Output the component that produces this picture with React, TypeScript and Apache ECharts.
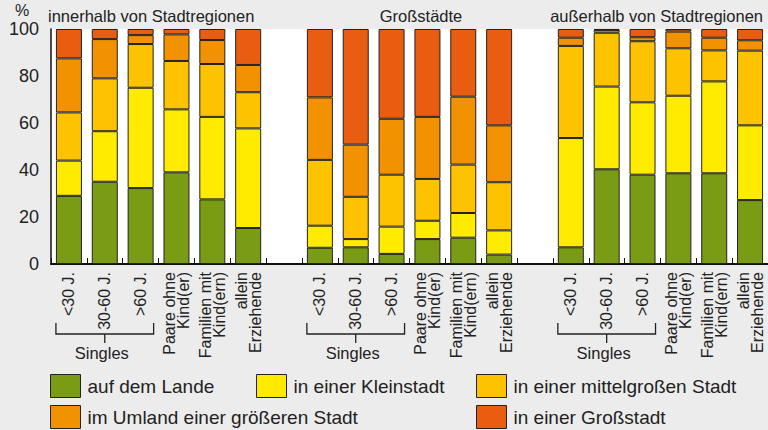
import React, { useEffect, useRef } from "react";
import * as echarts from "echarts";

const FONT = "'Liberation Sans', Arial, Helvetica, sans-serif";
const TEXT = "#222222";

const groupTitles = ["innerhalb von Stadtregionen", "Großstädte", "außerhalb von Stadtregionen"];
const householdTypes = [
  "<30 J.",
  "30-60 J.",
  ">60 J.",
  "Paare ohne\nKind(er)",
  "Familien mit\nKind(ern)",
  "allein\nErziehende",
];
const singlesLabel = "Singles";
const yTicks = [0, 20, 40, 60, 80, 100];

const seriesNames = [
  "auf dem Lande",
  "in einer Kleinstadt",
  "in einer mittelgroßen Stadt",
  "im Umland einer größeren Stadt",
  "in einer Großstadt",
];
const seriesColors = ["#7a9c14", "#ffeb00", "#fdc300", "#f29200", "#e85d10"];

// values per group: innerhalb | Großstädte | außerhalb
const aufDemLande = [29, 35, 32.3, 39, 27.5, 15.3, 6.9, 7.1, 4.3, 10.6, 11.2, 4.0, 7.1, 40.3, 38, 38.6, 38.6, 27.2];
const kleinstadt = [15, 21.5, 42.7, 26.8, 35.1, 42.4, 9.4, 3.5, 11.6, 7.8, 10.5, 10.3, 46.5, 35.2, 30.8, 33, 39.1, 31.8];
const mittelgross = [20.5, 22.5, 18.6, 20.6, 22.5, 15.4, 28, 18, 22.1, 17.8, 20.6, 20.5, 39.2, 22.9, 26, 20.2, 13.2, 31.8];
const umland = [23, 16.7, 3.8, 11.3, 10.2, 11.6, 26.6, 22.2, 23.8, 26.4, 28.9, 24.2, 3.5, 1.2, 1.7, 7.1, 5.4, 4.4];
const grossstadt = [12.5, 4.3, 2.6, 2.3, 4.7, 15.3, 29.1, 49.2, 38.2, 37.4, 28.8, 41, 3.7, 0.4, 3.5, 1.1, 3.7, 4.8];

const seriesValues = [aufDemLande, kleinstadt, mittelgross, umland, grossstadt];

function withGaps<T>(arr: T[], gap: T): T[] {
  return [...arr.slice(0, 6), gap, ...arr.slice(6, 12), gap, ...arr.slice(12, 18)];
}

const categories = withGaps([...householdTypes, ...householdTypes, ...householdTypes], "");

const legendPos = [
  { left: 50, top: 374 },
  { left: 256, top: 374 },
  { left: 476, top: 374 },
  { left: 50, top: 405 },
  { left: 476, top: 405 },
];

export default function App() {
  const ref = useRef<HTMLDivElement>(null);
  useEffect(() => {
    if (!ref.current) return;
    const chart = echarts.init(ref.current, null, { renderer: "svg" });
    const option: any = {
      animation: false,
      backgroundColor: "#ececec",
      textStyle: { fontFamily: FONT, color: TEXT },
      grid: {
        left: 51,
        right: 0,
        top: 29,
        bottom: 166,
        show: true,
        backgroundColor: "#ffffff",
        borderWidth: 0,
      },
      legend: seriesNames.map((n, i) => ({
        data: [n],
        left: legendPos[i].left,
        top: legendPos[i].top,
        padding: 0,
        icon: "rect",
        itemWidth: 30,
        itemHeight: 23,
        itemGap: 0,
        selectedMode: false,
        textStyle: { fontSize: 19, color: TEXT, fontFamily: FONT, padding: [0, 0, 0, 2] },
        itemStyle: { borderColor: "#222", borderWidth: 1 },
      })),
      xAxis: {
        type: "category",
        data: categories,
        axisLine: { show: true, lineStyle: { color: "#111", width: 2 } },
        axisTick: { show: true, inside: true, length: 6, interval: 0, lineStyle: { color: "#111", width: 1 } },
        axisLabel: {
          interval: 0,
          rotate: 90,
          fontSize: 16,
          lineHeight: 14,
          color: TEXT,
          margin: 8,
          fontFamily: FONT,
        },
        splitLine: { show: false },
      },
      yAxis: {
        type: "value",
        min: yTicks[0],
        max: yTicks[yTicks.length - 1],
        interval: 20,
        axisLine: { show: true, lineStyle: { color: "#111", width: 1.5 } },
        axisTick: { show: false },
        splitLine: { show: false },
        axisLabel: { fontSize: 18, color: TEXT, margin: 12, fontFamily: FONT },
      },
      series: seriesNames.map((name, i) => ({
        name,
        type: "bar",
        stack: "total",
        barWidth: 26,
        data: withGaps(seriesValues[i] as (number | string)[], "-"),
        itemStyle: { color: seriesColors[i], borderColor: "#222", borderWidth: 1 },
        emphasis: { disabled: true },
      })),
    };
    chart.setOption(option);

    const graphics: any[] = [
      {
        type: "text",
        x: 22,
        y: 10,
        style: { text: "%", fontSize: 16, fontFamily: FONT, fill: TEXT, align: "center", verticalAlign: "middle" },
      },
      {
        type: "text",
        x: 48,
        y: 16,
        style: { text: groupTitles[0], fontSize: 16.5, fontFamily: FONT, fill: TEXT, align: "left", verticalAlign: "middle" },
      },
      {
        type: "text",
        x: 421,
        y: 16,
        style: { text: groupTitles[1], fontSize: 16.5, fontFamily: FONT, fill: TEXT, align: "center", verticalAlign: "middle" },
      },
      {
        type: "text",
        x: 763,
        y: 16,
        style: { text: groupTitles[2], fontSize: 16.5, fontFamily: FONT, fill: TEXT, align: "right", verticalAlign: "middle" },
      },
    ];
    for (let k = 0; k < 3; k++) {
      const start = k * 7;
      const c1 = chart.convertToPixel({ xAxisIndex: 0 }, start) as number;
      const c3 = chart.convertToPixel({ xAxisIndex: 0 }, start + 2) as number;
      const x1 = c1 - 13;
      const x2 = c3 + 13;
      const mid = (x1 + x2) / 2;
      graphics.push({
        type: "polyline",
        shape: { points: [[x1, 323], [x1, 334], [x2, 334], [x2, 323]] },
        style: { stroke: "#222", lineWidth: 1.3, fill: "none" },
      });
      graphics.push({
        type: "line",
        shape: { x1: mid, y1: 334, x2: mid, y2: 343 },
        style: { stroke: "#222", lineWidth: 1.3 },
      });
      graphics.push({
        type: "text",
        x: mid - 3,
        y: 353,
        style: { text: singlesLabel, fontSize: 16.5, fontFamily: FONT, fill: TEXT, align: "center", verticalAlign: "middle" },
      });
    }
    chart.setOption({ graphic: graphics });

    return () => chart.dispose();
  }, []);
  return (
    <div
      ref={ref}
      style={{ position: "fixed", left: 0, top: 0, width: 768, height: 430, background: "#ececec" }}
    />
  );
}
